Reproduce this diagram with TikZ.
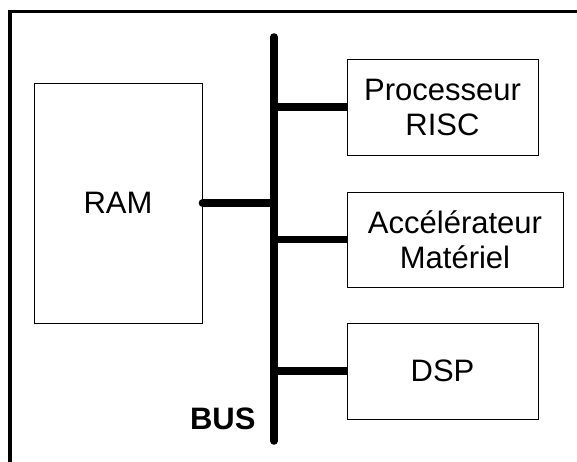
\documentclass[tikz,border=0pt]{standalone}
\usepackage{fontspec}
\setmainfont{Liberation Sans}

\begin{document}
\begin{tikzpicture}[x=1pt, y=-1pt,
  blk/.style={draw, line width=0.9pt, align=center, inner sep=0pt, font=\fontsize{31}{35}\selectfont},
  wire/.style={line width=7.5pt, line cap=round},
  tap/.style={line width=7.5pt}]
  \useasboundingbox (0,0) rectangle (577,462);
  \draw[line width=3.5pt] (10,462) -- (10,11.5) -- (577,11.5);

  \node[blk, minimum width=168, minimum height=240] (ram) at (118,203) {RAM};
  \node[blk, minimum width=191, minimum height=96] (risc) at (442.5,107) {Processeur\\RISC};
  \node[blk, minimum width=216, minimum height=95] (accel) at (455,239.5) {Accélérateur\\Matériel};
  \node[blk, minimum width=191, minimum height=96] (dsp) at (442.5,371) {DSP};

  \coordinate (bustop) at (274,37);
  \coordinate (busbot) at (274,441);
  \draw[wire] (bustop) -- (busbot);
  \node[anchor=base east, font=\fontsize{31}{35}\selectfont\bfseries] (buslbl) at (259,429) {BUS};

  \draw[wire] (ram.east) -- (ram.east -| bustop);
  \draw[tap] (risc.west -| bustop) -- (risc.west);
  \draw[tap] (accel.west -| bustop) -- (accel.west);
  \draw[tap] (dsp.west -| bustop) -- (dsp.west);
\end{tikzpicture}
\end{document}
